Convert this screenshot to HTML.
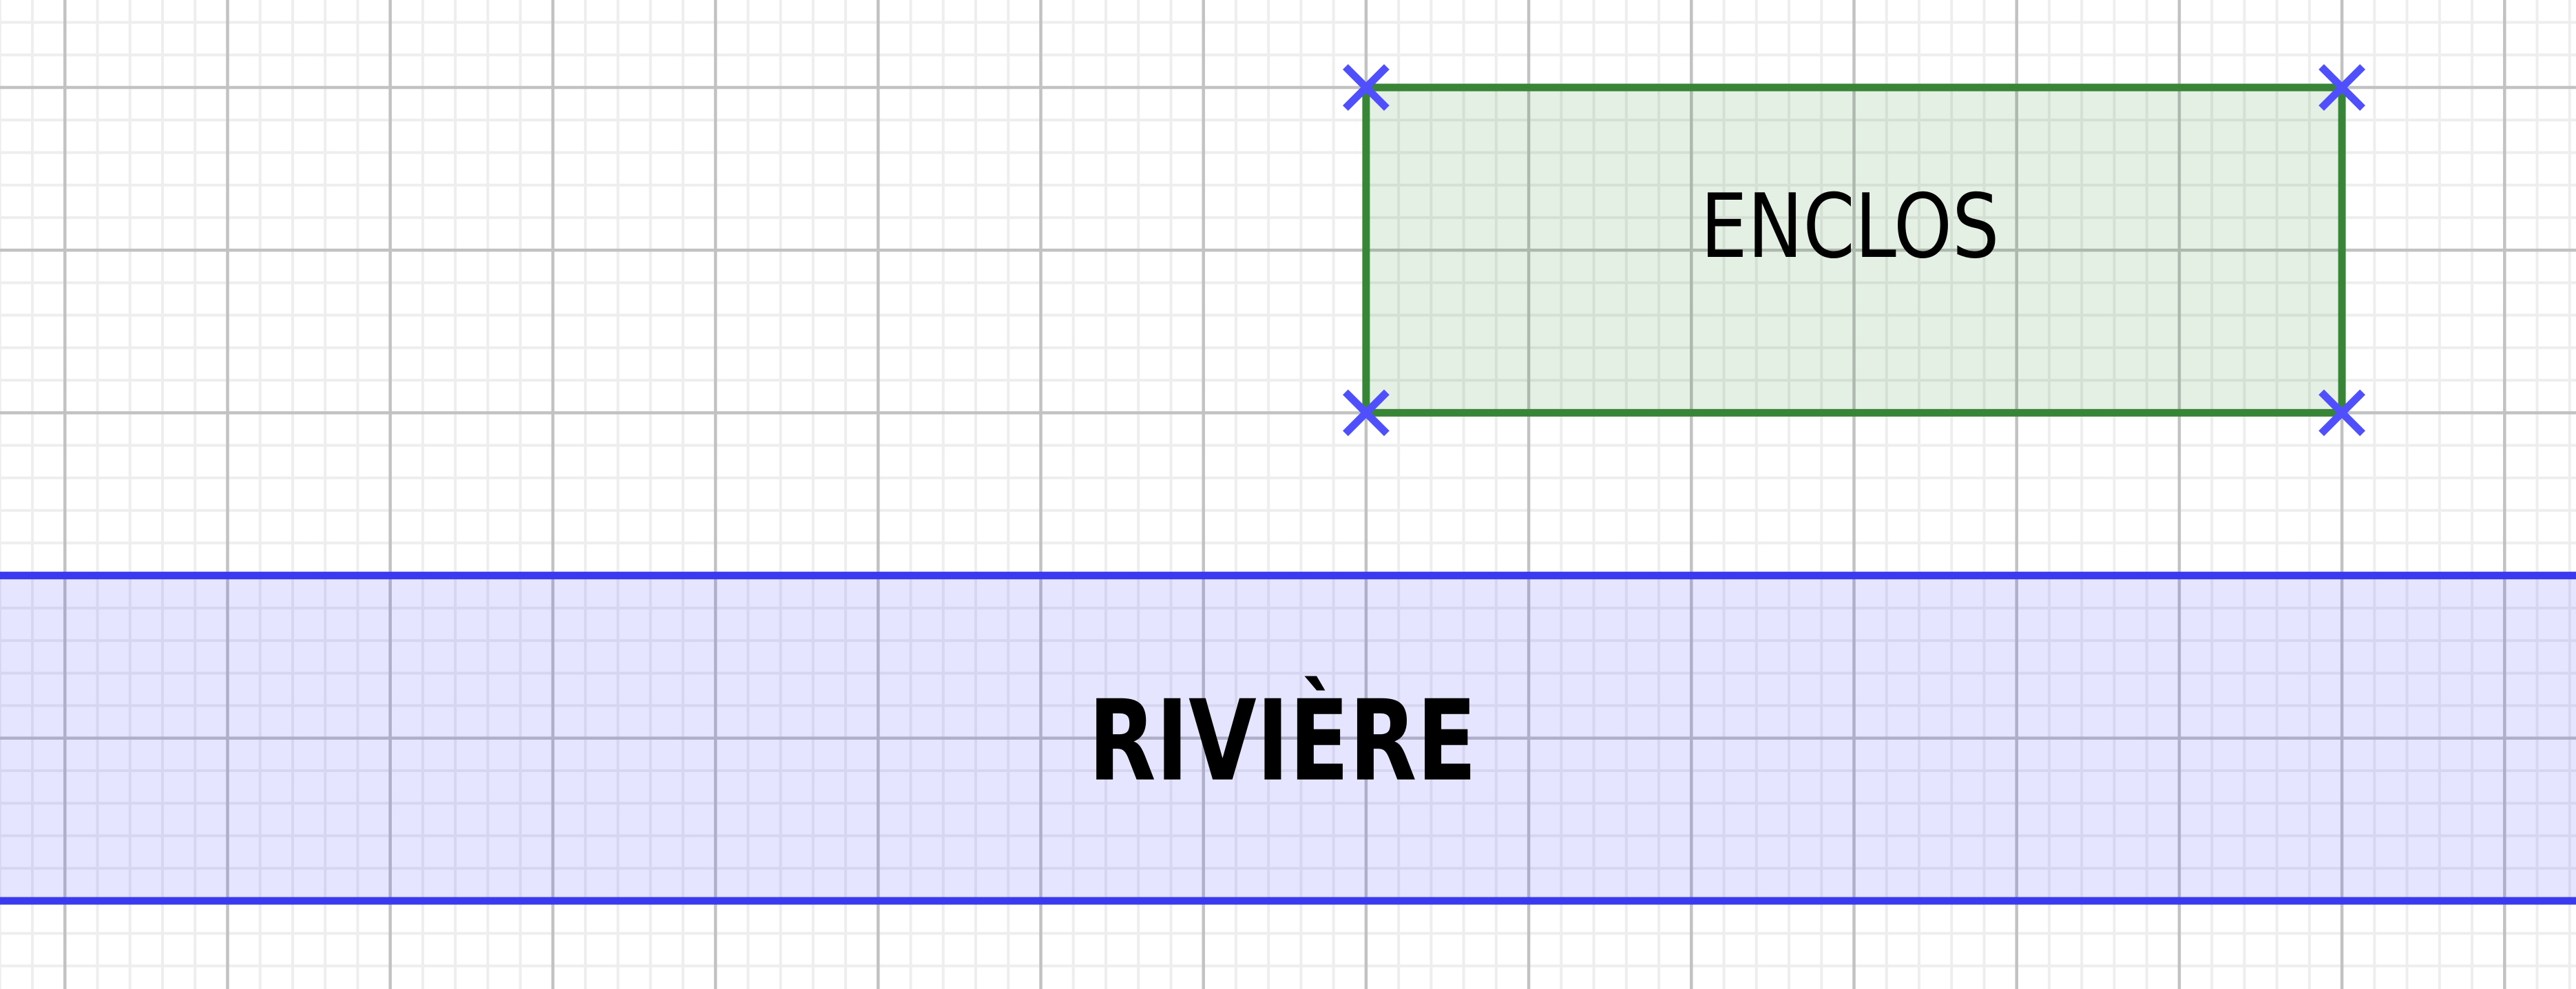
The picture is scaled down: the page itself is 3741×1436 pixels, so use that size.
<!DOCTYPE html>
<html><head><meta charset="utf-8"><style>
html,body{margin:0;padding:0;background:#fff;}
svg{display:block;}
</style></head><body>
<svg id="chart" width="3741" height="1436" viewBox="0 0 3741 1436" xmlns="http://www.w3.org/2000/svg">
<g id="grid-minor"></g>
<g id="grid-major"></g>
<g id="shapes"></g>
</svg>
<script>
// grid units: major cell = 1 unit
const enclosCorners = [[8,0],[14,0],[14,2],[8,2]];
const riverBand = [3,5]; // y from / to
const enclosLabel = "ENCLOS";
const riverLabel = "RIVIÈRE";

const X0 = 94.3, Y0 = 127, U = 236.2, W = 3741, H = 1436;
const sx = v => X0 + v*U;
const sy = v => Y0 + v*U;
const NS = "http://www.w3.org/2000/svg";
function mk(tag, attrs, parent){
  const e = document.createElementNS(NS, tag);
  for (const k in attrs) e.setAttribute(k, attrs[k]);
  parent.appendChild(e);
  return e;
}
const gMin = document.getElementById('grid-minor');
const gMaj = document.getElementById('grid-major');
const gS = document.getElementById('shapes');

for (let i = -5; i <= 80; i++) {
  const x = X0 + i*U/5;
  if (x < -5 || x > W+5) continue;
  const major = i % 5 === 0;
  const l = mk('line', {x1:x, y1:0, x2:x, y2:H, stroke: major ? '#c2c2c2' : '#eeeeee', 'stroke-width': major ? 4.5 : 4}, major ? gMaj : gMin);
  
  
}
for (let i = -5; i <= 35; i++) {
  const y = Y0 + i*U/5;
  if (y < -5 || y > H+5) continue;
  const major = i % 5 === 0;
  const l = mk('line', {x1:0, y1:y, x2:W, y2:y, stroke: major ? '#c2c2c2' : '#eeeeee', 'stroke-width': major ? 4.5 : 4}, major ? gMaj : gMin);
  
  
}

// river
const ry1 = sy(riverBand[0]), ry2 = sy(riverBand[1]);
const rf = mk('rect', {x:0, y:ry1, width:W, height:ry2-ry1, fill:'rgba(40,40,255,0.12)'}, gS);


[ry1, ry2].forEach(y => {
  const l = mk('line', {x1:0, y1:y, x2:W, y2:y, stroke:'#3a3af0', 'stroke-width':11}, gS);
  
  
});
const rt = mk('text', {x:W/2 - 8, y:(ry1+ry2)/2 + 60, 'text-anchor':'middle', 'font-family':'"DejaVu Sans","Liberation Sans",sans-serif', 'font-weight':'bold', 'font-size':162, fill:'#000', textLength:564, lengthAdjust:'spacingAndGlyphs'}, gS);
rt.textContent = riverLabel;



// enclosure
const pts = enclosCorners.map(c => sx(c[0]) + ',' + sy(c[1])).join(' ');
const poly = mk('polygon', {points:pts, fill:'rgba(0,110,0,0.1)', stroke:'#388538', 'stroke-width':11, 'stroke-linejoin':'miter'}, gS);


const xs = enclosCorners.map(c => sx(c[0])), ys = enclosCorners.map(c => sy(c[1]));
const cx = (Math.min(...xs)+Math.max(...xs))/2, cy = (Math.min(...ys)+Math.max(...ys))/2;
const et = mk('text', {x:cx - 6, y:cy + 10, 'text-anchor':'middle', 'font-family':'"DejaVu Sans","Liberation Sans",sans-serif', 'font-size':128, fill:'#000', textLength:434, lengthAdjust:'spacingAndGlyphs'}, gS);
et.textContent = enclosLabel;



enclosCorners.forEach(c => {
  const x = sx(c[0]), y = sy(c[1]), d = 30;
  const g = mk('g', {}, gS);
  
  
  mk('line', {x1:x-d, y1:y-d, x2:x+d, y2:y+d, stroke:'#4f4ffc', 'stroke-width':11}, g);
  mk('line', {x1:x-d, y1:y+d, x2:x+d, y2:y-d, stroke:'#4f4ffc', 'stroke-width':11}, g);
});
</script>
</body></html>
